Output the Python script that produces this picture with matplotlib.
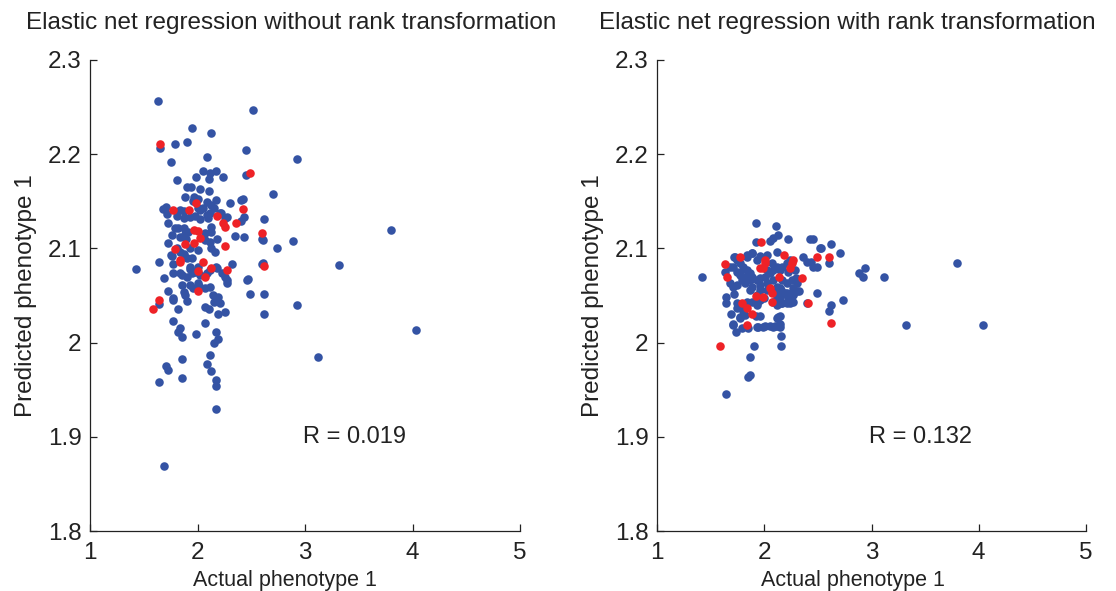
import matplotlib
matplotlib.use("Agg")
import matplotlib.pyplot as plt

plt.rcParams['font.family'] = ['Liberation Sans', 'DejaVu Sans']

# ---------------- data ----------------
titles = ["Elastic net regression without rank transformation",
          "Elastic net regression with rank transformation"]
r_labels = ["R = 0.019", "R = 0.132"]
x_ticks = [1, 2, 3, 4, 5]
x_tick_labels = ["1", "2", "3", "4", "5"]
y_ticks = [1.8, 1.9, 2.0, 2.1, 2.2, 2.3]
y_tick_labels = ["1.8", "1.9", "2", "2.1", "2.2", "2.3"]

left_blue = [
    (1.63, 2.256), (2.52, 2.247), (1.95, 2.228), (2.13, 2.222), (1.65, 2.207), (1.79, 2.211),
    (1.90, 2.213), (2.45, 2.204), (2.93, 2.195), (2.09, 2.197), (1.75, 2.192), (2.05, 2.182),
    (2.17, 2.182), (2.12, 2.180), (2.24, 2.176), (1.99, 2.176), (2.11, 2.174), (2.45, 2.178),
    (1.81, 2.173), (2.70, 2.158), (1.90, 2.165), (1.94, 2.165), (2.02, 2.163), (2.11, 2.161),
    (1.88, 2.155), (1.97, 2.155), (2.00, 2.152), (2.17, 2.151), (2.42, 2.152), (1.96, 2.150),
    (2.09, 2.149), (2.30, 2.148), (2.40, 2.151), (1.71, 2.144), (1.68, 2.142), (1.84, 2.141),
    (1.87, 2.140), (2.00, 2.143), (2.02, 2.141), (2.05, 2.143), (2.13, 2.146), (2.15, 2.143),
    (2.21, 2.138), (2.26, 2.132), (2.27, 2.133), (2.40, 2.129), (2.43, 2.133), (1.72, 2.137),
    (1.81, 2.134), (1.87, 2.132), (1.98, 2.134), (2.02, 2.131), (2.09, 2.135), (2.10, 2.132),
    (2.62, 2.131), (1.73, 2.127), (1.79, 2.122), (1.82, 2.122), (1.87, 2.122), (1.91, 2.117),
    (1.88, 2.115), (2.13, 2.123), (2.13, 2.117), (2.07, 2.116), (1.76, 2.114), (1.84, 2.112),
    (1.89, 2.110), (1.93, 2.100), (2.00, 2.098), (2.07, 2.109), (2.12, 2.107), (2.18, 2.110),
    (2.13, 2.100), (2.16, 2.096), (2.61, 2.109), (2.35, 2.113), (2.43, 2.112), (2.74, 2.100),
    (1.73, 2.106), (1.81, 2.100), (1.76, 2.092), (1.84, 2.096), (1.87, 2.094), (1.90, 2.090),
    (1.77, 2.083), (1.77, 2.074), (1.64, 2.086), (1.93, 2.080), (1.98, 2.075), (2.02, 2.072),
    (2.09, 2.074), (2.12, 2.077), (2.18, 2.079), (2.23, 2.074), (2.26, 2.070), (2.27, 2.063),
    (2.61, 2.085), (2.32, 2.083), (1.69, 2.069), (1.86, 2.072), (1.90, 2.070), (1.86, 2.061),
    (1.93, 2.061), (1.87, 2.054), (1.96, 2.058), (2.01, 2.060), (2.07, 2.058), (2.12, 2.059),
    (1.73, 2.055), (1.77, 2.047), (1.88, 2.051), (1.90, 2.044), (2.14, 2.051), (2.19, 2.048),
    (2.15, 2.043), (2.21, 2.042), (2.46, 2.066), (2.49, 2.052), (2.62, 2.052), (1.64, 2.041),
    (1.82, 2.036), (2.07, 2.038), (2.11, 2.036), (2.19, 2.030), (2.26, 2.032), (2.62, 2.030),
    (1.77, 2.023), (1.84, 2.015), (1.82, 2.011), (1.86, 2.006), (1.99, 2.009), (2.07, 2.021),
    (2.17, 2.011), (2.19, 2.004), (2.15, 2.000), (1.86, 1.983), (2.12, 1.987), (2.09, 1.977),
    (2.13, 1.970), (1.71, 1.975), (1.73, 1.971), (1.64, 1.958), (1.86, 1.962), (2.17, 1.960),
    (2.17, 1.954), (2.17, 1.930), (1.69, 1.869), (1.43, 2.078), (2.89, 2.108), (2.93, 2.040),
    (3.12, 1.985), (3.32, 2.082), (3.80, 2.120), (4.03, 2.013), (2.60, 2.110), (2.60, 2.083),
    (2.47, 2.068), (2.27, 2.066), (2.00, 2.063), (1.93, 2.078), (2.00, 2.080), (2.17, 2.080),
    (1.95, 2.074), (1.84, 2.074), (1.75, 2.093), (1.95, 2.090), (1.77, 2.045), (2.12, 2.138),
    (2.22, 2.138), (1.93, 2.133),
]
left_red = [
    (1.65, 2.211), (2.49, 2.180), (1.99, 2.148), (1.77, 2.141), (1.92, 2.141), (2.42, 2.142),
    (2.18, 2.134), (2.24, 2.127), (2.26, 2.123), (2.36, 2.127), (1.97, 2.120), (2.00, 2.119),
    (2.60, 2.116), (2.02, 2.111), (1.88, 2.105), (1.97, 2.106), (2.26, 2.103), (1.79, 2.099),
    (1.84, 2.086), (2.05, 2.086), (2.13, 2.079), (2.00, 2.076), (2.07, 2.070), (2.27, 2.077),
    (2.62, 2.081), (2.00, 2.055), (1.64, 2.045), (1.59, 2.036), (1.84, 2.088),
]
right_blue = [
    (1.92, 2.127), (2.11, 2.124), (2.13, 2.114), (2.08, 2.111), (2.05, 2.108), (2.22, 2.110),
    (2.43, 2.110), (2.45, 2.110), (2.52, 2.100), (2.62, 2.105), (2.71, 2.095), (1.92, 2.107),
    (1.42, 2.070), (1.63, 2.075), (1.64, 2.048), (1.64, 2.042), (1.69, 2.030), (1.71, 2.019),
    (1.74, 2.011), (1.90, 1.996), (1.87, 1.985), (1.85, 1.963), (1.87, 1.966), (1.64, 1.945),
    (2.16, 1.996), (2.16, 2.007), (2.08, 2.017), (2.12, 2.018), (2.15, 2.017), (2.01, 2.018),
    (1.93, 2.017), (2.13, 2.027), (1.77, 2.027), (1.80, 2.034), (1.75, 2.042), (1.89, 2.043),
    (1.93, 2.042), (1.96, 2.045), (2.00, 2.047), (2.13, 2.051), (2.15, 2.045), (2.17, 2.042),
    (2.24, 2.042), (2.27, 2.051), (2.32, 2.055), (2.40, 2.042), (2.49, 2.053), (2.62, 2.040),
    (2.60, 2.034), (2.73, 2.045), (2.88, 2.074), (2.92, 2.070), (2.94, 2.079), (2.26, 2.066),
    (2.60, 2.085), (2.45, 2.080), (2.44, 2.086), (2.40, 2.086), (2.36, 2.091), (2.53, 2.100),
    (3.12, 2.070), (3.32, 2.019), (3.80, 2.084), (4.04, 2.019),
    (1.72, 2.091), (1.75, 2.088), (1.77, 2.085), (1.80, 2.080), (1.84, 2.077), (1.87, 2.074),
    (1.89, 2.070), (1.93, 2.066), (1.96, 2.069), (2.01, 2.070), (2.05, 2.074), (2.08, 2.077),
    (2.12, 2.080), (2.15, 2.077), (2.17, 2.080), (2.21, 2.085), (2.24, 2.088), (1.84, 2.093),
    (1.89, 2.095), (1.96, 2.092), (2.03, 2.093), (2.12, 2.096), (2.07, 2.085), (1.87, 2.066),
    (1.82, 2.063), (1.89, 2.059), (1.96, 2.061), (2.03, 2.063), (2.08, 2.066), (2.12, 2.059),
    (2.16, 2.056), (2.19, 2.053), (2.22, 2.048), (2.27, 2.058), (2.31, 2.063), (2.21, 2.063),
    (1.71, 2.080), (1.75, 2.075), (1.68, 2.063), (1.71, 2.059), (1.77, 2.072), (1.79, 2.066),
    (1.75, 2.061), (1.87, 2.056), (1.93, 2.051), (1.96, 2.056), (2.03, 2.056), (2.10, 2.056),
    (2.17, 2.066), (2.30, 2.069), (2.22, 2.075), (2.03, 2.077), (2.12, 2.048), (2.16, 2.042),
    (2.49, 2.080),
    (1.71, 2.020), (1.79, 2.016), (1.85, 2.016), (1.94, 2.017), (1.99, 2.017), (2.05, 2.018),
    (2.10, 2.018), (2.15, 2.020), (1.77, 2.026), (1.82, 2.029), (1.92, 2.028), (1.96, 2.028),
    (2.12, 2.026), (2.15, 2.028), (1.75, 2.037), (1.77, 2.040), (1.84, 2.043), (1.93, 2.040),
    (1.72, 2.052), (2.08, 2.043), (2.12, 2.040), (2.21, 2.042), (2.24, 2.045), (2.27, 2.043),
    (2.15, 2.048), (2.17, 2.052), (2.21, 2.053), (2.27, 2.052), (2.31, 2.055), (2.12, 2.054),
    (2.15, 2.058),
    (1.68, 2.080), (1.73, 2.091), (1.84, 2.091), (1.89, 2.095), (1.93, 2.088), (2.29, 2.077),
    (2.24, 2.082), (1.77, 2.074), (1.82, 2.070),
]
right_red = [
    (1.97, 2.107), (1.63, 2.083), (1.65, 2.070), (1.84, 2.019), (1.59, 1.996), (1.89, 2.030),
    (1.84, 2.037), (1.79, 2.042), (1.92, 2.049), (1.99, 2.048), (2.07, 2.043), (2.05, 2.058),
    (2.07, 2.053), (2.41, 2.042), (2.62, 2.021), (2.35, 2.069), (2.14, 2.070), (2.60, 2.091),
    (2.49, 2.091), (2.27, 2.088), (2.26, 2.085), (2.24, 2.079), (2.18, 2.093), (2.01, 2.088),
    (2.01, 2.085), (1.99, 2.079), (1.96, 2.079), (1.77, 2.091),
]

# ---------------- figure ----------------
BLUE = "#3453a4"
RED = "#ee2227"
TXT = '#222222'

fig = plt.figure(figsize=(11.16, 5.91), dpi=100)
ax_rects = [[90 / 1116, 60 / 591, 430 / 1116, 471 / 591],
            [657 / 1116, 60 / 591, 429 / 1116, 471 / 591]]
panels = [(left_blue, left_red), (right_blue, right_red)]
title_x = [0.469, 0.443]
xlabel_x = [0.453, 0.457]

for i, (blue, red) in enumerate(panels):
    ax = fig.add_axes(ax_rects[i])
    bx, by = zip(*blue)
    rx, ry = zip(*red)
    ax.scatter(bx, by, s=38, color=BLUE, linewidths=0, zorder=2)
    ax.scatter(rx, ry, s=38, color=RED, linewidths=0, zorder=3)
    ax.set_xlim(1, 5)
    ax.set_ylim(1.8, 2.3)
    ax.set_xticks(x_ticks)
    ax.set_xticklabels(x_tick_labels)
    ax.set_yticks(y_ticks)
    ax.set_yticklabels(y_tick_labels)
    ax.spines['top'].set_visible(False)
    ax.spines['right'].set_visible(False)
    for s in ('left', 'bottom'):
        ax.spines[s].set_linewidth(0.9)
        ax.spines[s].set_color(TXT)
    ax.tick_params(direction='in', length=5, width=0.9, labelsize=17.5,
                   colors=TXT)
    ax.tick_params(axis='y', pad=6)
    ax.tick_params(axis='x', pad=8)
    ax.set_xlabel("Actual phenotype 1", fontsize=15.5, color=TXT)
    ax.xaxis.set_label_coords(xlabel_x[i], -0.082)
    ax.set_ylabel("Predicted phenotype 1", fontsize=17.5, color=TXT, labelpad=8)
    ax.set_title(titles[i], fontsize=17.5, color=TXT, x=title_x[i], pad=22)
    ax.text(2.98, 1.90, r_labels[i], fontsize=17, color=TXT,
            ha='left', va='center')

fig.savefig("out.png", dpi=100)
